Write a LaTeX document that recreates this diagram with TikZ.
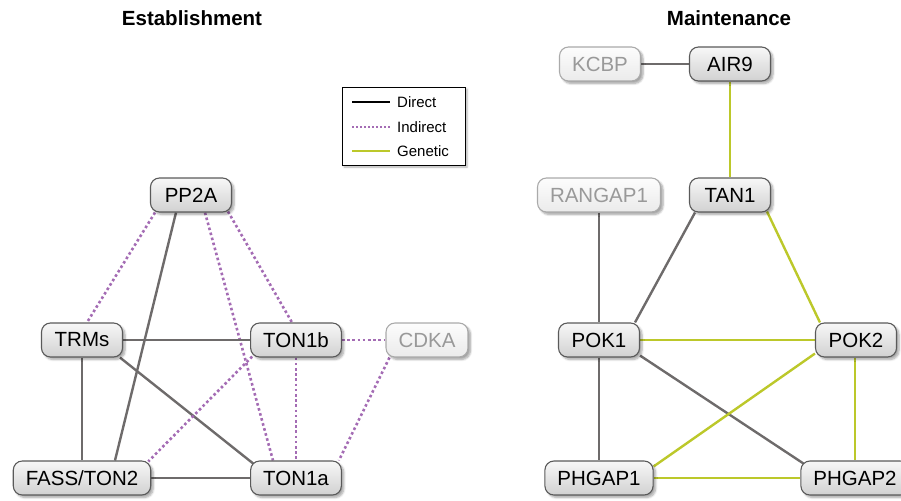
\documentclass[tikz,border=0pt]{standalone}
\usepackage{fontspec}
\setmainfont{Liberation Sans}
\usetikzlibrary{calc,backgrounds,shadows.blur}
\definecolor{edgegrey}{HTML}{6E6B6B}
\definecolor{indpurple}{HTML}{A46CB4}
\definecolor{genegreen}{HTML}{BCC82A}
\definecolor{nodeborder}{HTML}{5A5A5A}
\definecolor{fadeborder}{HTML}{AAAAAA}
\definecolor{fadetext}{HTML}{999999}
\tikzset{
  gene/.style={rounded corners=9pt, draw=nodeborder, line width=1.1pt,
    top color=white!97!black, bottom color=white!82!black,
    minimum height=34pt, minimum width=81pt, inner xsep=12.5pt,
    font=\fontsize{20.5}{24}\selectfont,
    blur shadow={shadow xshift=2.5pt, shadow yshift=-2.5pt, shadow blur steps=6, shadow opacity=35}},
  fadegene/.style={gene, draw=fadeborder, top color=white!99!black, bottom color=white!92!black, text=fadetext,
    blur shadow={shadow xshift=2.5pt, shadow yshift=-2.5pt, shadow blur steps=6, shadow opacity=20}},
  direct/.style={draw=edgegrey, line width=2.4pt},
  indirect/.style={draw=indpurple, line width=2.6pt, dash pattern=on 2.6pt off 2.6pt},
  genetic/.style={draw=genegreen, line width=2.4pt},
  titletext/.style={font=\bfseries\fontsize{20.5}{24}\selectfont},
  legtext/.style={font=\fontsize{15}{18}\selectfont, anchor=west, inner sep=0pt}
}
\begin{document}
\begin{tikzpicture}[x=1pt,y=-1pt]
\useasboundingbox (0,0) rectangle (901,500);
% titles
\node[titletext] (t1) at (192,18) {Establishment};
\node[titletext] (t2) at (729,18) {Maintenance};
% legend
\node[draw=black, line width=0.9pt, fill=white, minimum width=123pt, minimum height=78pt,
  blur shadow={shadow xshift=2pt, shadow yshift=-2pt, shadow blur steps=5, shadow opacity=30}] (leg) at (403.5,126) {};
\coordinate (l1a) at (352,102); \coordinate (l1b) at (390,102);
\coordinate (l2a) at (352,127); \coordinate (l2b) at (390,127);
\coordinate (l3a) at (352,151); \coordinate (l3b) at (390,151);
\draw[black, line width=2.2pt] (l1a) -- (l1b);
\draw[draw=indpurple, line width=2pt, dash pattern=on 2pt off 2pt] (l2a) -- (l2b);
\draw[genegreen, line width=2.2pt] (l3a) -- (l3b);
\node[legtext] (lt1) at (397,102) {Direct};
\node[legtext] (lt2) at (397,127) {Indirect};
\node[legtext] (lt3) at (397,151) {Genetic};
% establishment nodes
\node[gene] (pp2a) at (191,195) {PP2A};
\node[gene] (trms) at (82,340) {TRMs};
\node[gene] (ton1b) at (296,340) {TON1b};
\node[fadegene] (cdka) at (427,340) {CDKA};
\node[gene] (fass) at (82,478) {FASS/TON2};
\node[gene] (ton1a) at (296,478) {TON1a};
% maintenance nodes
\node[fadegene] (kcbp) at (600,64) {KCBP};
\node[gene] (air9) at (730,64) {AIR9};
\node[fadegene] (rangap) at (599,195) {RANGAP1};
\node[gene] (tan1) at (730,195) {TAN1};
\node[gene] (pok1) at (599,340) {POK1};
\node[gene] (pok2) at (856,340) {POK2};
\node[gene] (phgap1) at (599,478) {PHGAP1};
\node[gene] (phgap2) at (855,478) {PHGAP2};
\begin{scope}[on background layer]
% establishment edges
\draw[indirect] ($(pp2a.south)+(-36,0)$) -- ($(trms.north)+(5,0)$);
\draw[direct] ($(pp2a.south)+(-15,0)$) -- ($(fass.north)+(33,0)$);
\draw[indirect] ($(pp2a.south)+(14,0)$) -- ($(ton1a.north)+(-23,0)$);
\draw[indirect] ($(pp2a.south)+(37,-1)$) -- ($(ton1b.north)+(-4,0)$);
\draw[direct] (trms.east) -- (ton1b.west);
\draw[direct] ($(trms.south)+(38,0)$) -- ($(ton1a.north west)+(3,3)$);
\draw[direct] (trms.south) -- (fass.north);
\draw[indirect] (ton1b.east) -- (cdka.west);
\draw[indirect] ($(ton1b.south west)+(2,-1)$) -- ($(fass.north east)+(-3,1)$);
\draw[indirect] (ton1b.south) -- (ton1a.north);
\draw[indirect] ($(cdka.south west)+(4,0)$) -- ($(ton1a.north east)+(-3,0)$);
\draw[direct] (fass.east) -- (ton1a.west);
% maintenance edges
\draw[direct] (kcbp.east) -- (air9.west);
\draw[genetic] (air9.south) -- (tan1.north);
\draw[direct] (rangap.south) -- (pok1.north);
\draw[direct] ($(tan1.south)+(-35,0)$) -- ($(pok1.north)+(36,0)$);
\draw[genetic] ($(tan1.south)+(37,-1)$) -- ($(pok2.north west)+(5,0)$);
\draw[genetic] (pok1.east) -- (pok2.west);
\draw[direct] (pok1.south) -- (phgap1.north);
\draw[direct] ($(pok1.south east)+(0,-2)$) -- ($(phgap2.north west)+(3,3)$);
\draw[genetic] ($(pok2.south west)+(0,-4)$) -- ($(phgap1.north east)+(0,6)$);
\draw[genetic] (pok2.south -| phgap2.north) -- (phgap2.north);
\draw[genetic] (phgap1.east) -- (phgap2.west);
\end{scope}
\end{tikzpicture}
\end{document}
